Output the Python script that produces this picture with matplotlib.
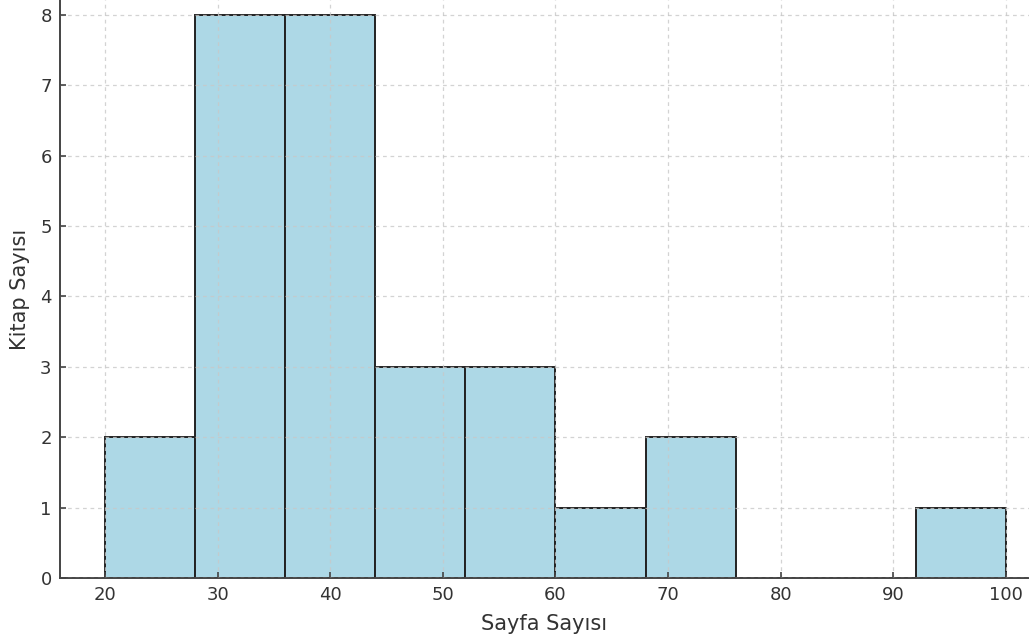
import matplotlib.pyplot as plt
import numpy as np

# histogram of page counts
bin_edges = [20, 28, 36, 44, 52, 60, 68, 76, 84, 92, 100]
counts = [2, 8, 8, 3, 3, 1, 2, 0, 0, 1]
x_ticks = [20, 30, 40, 50, 60, 70, 80, 90, 100]
y_ticks = [0, 1, 2, 3, 4, 5, 6, 7, 8]

plt.rcParams.update({'font.size': 13, 'font.family': 'DejaVu Sans'})
text_c = "#333333"

fig = plt.figure(figsize=(10.29, 6.38), dpi=100)
ax = fig.add_axes([0.0583, 0.094, 0.9417, 0.906])

ax.hist(bin_edges[:-1], bins=bin_edges, weights=counts,
        color="lightblue", edgecolor="#222222", linewidth=1.4)

ax.set_xlim(16, 102.05)
ax.set_ylim(0, 8.21)
ax.set_xticks(x_ticks)
ax.set_yticks(y_ticks)

ax.set_axisbelow(False)
ax.grid(True, linestyle=(0, (3, 3)), color="#c8c8c8", linewidth=0.9, alpha=0.8)

for s in ["top", "right"]:
    ax.spines[s].set_visible(False)
for s in ["left", "bottom"]:
    ax.spines[s].set_color("#444444")
    ax.spines[s].set_linewidth(1.4)

ax.tick_params(direction="in", length=4, width=1.2, color="#444444",
               labelcolor=text_c, pad=6)

ax.set_xlabel("Sayfa Sayısı", color=text_c, fontsize=15, labelpad=7)
ax.set_ylabel("Kitap Sayısı", color=text_c, fontsize=15, labelpad=7)

plt.savefig("out.png", dpi=100)
